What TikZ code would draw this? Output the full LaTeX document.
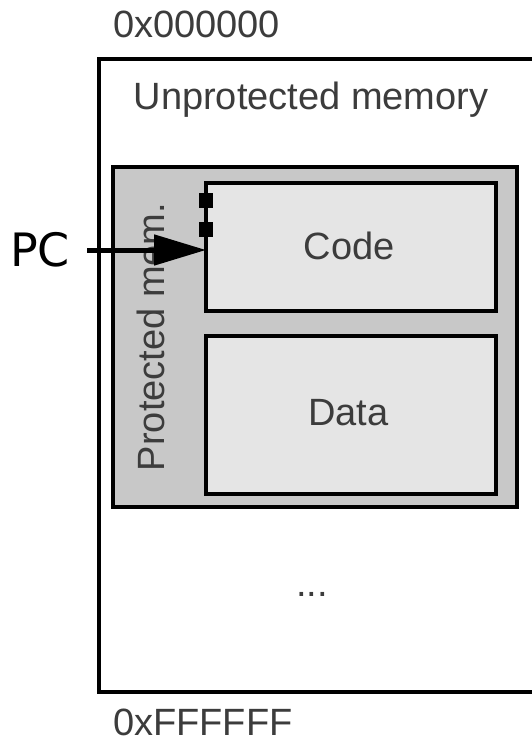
\documentclass[tikz,border=0pt]{standalone}
\usepackage{fontspec}
\setmainfont{Liberation Sans}
\newfontfamily\pcfont{DejaVu Sans}
\usetikzlibrary{arrows.meta}
\definecolor{labelgray}{HTML}{3C3C3C}
\definecolor{protfill}{HTML}{C8C8C8}
\definecolor{segfill}{HTML}{E5E5E5}
\begin{document}
\begin{tikzpicture}[x=1pt,y=-1pt,
  region/.style={draw=black, anchor=north west, inner sep=0pt},
  label/.style={text=labelgray, font=\fontsize{38}{40}\selectfont, inner sep=0pt},
  marker/.style={fill=black, minimum width=14pt, minimum height=15pt, inner sep=0pt}]
\useasboundingbox (0,0) rectangle (531,742);
\fill[white] (0,0) rectangle (531,742);

% whole address space (right edge runs off the page)
\node[region, line width=4pt, minimum width=460pt, minimum height=633pt] (mem) at (97,57) {};
% protected module
\node[region, line width=3.5pt, fill=protfill, minimum width=404pt, minimum height=340pt] (prot) at (111,165) {};
\node[region, line width=4pt, fill=segfill, minimum width=290pt, minimum height=128pt] (code) at (204,181) {};
\node[region, line width=4pt, fill=segfill, minimum width=290pt, minimum height=158pt] (data) at (204,334) {};

% entry points
\node[marker] (entryA) at (206,200) {};
\node[marker] (entryB) at (206,229) {};

% labels
\node[label, anchor=west] (lo) at (113,24) {0x000000};
\node[label, anchor=west] (hi) at (113,722) {0xFFFFFF};
\node[label] (unprot) at (311,100) {Unprotected memory};
\node[label, rotate=90] (protlbl) at (151,337) {Protected mem.};
\node[label] (codelbl) at (349,246) {Code};
\node[label] (datalbl) at (348.5,413) {Data};
\node[label] (dots) at (312,594) {...};

% program counter
\node[font=\pcfont\fontsize{46}{48}\selectfont, anchor=west, inner sep=0pt] (pc) at (10,250) {PC};
\coordinate (pctail) at (87,250);
\coordinate (pchead) at (206,250);
\draw[line width=5pt, -{Triangle[length=52pt,width=30pt]}] (pctail) -- (pchead);
\end{tikzpicture}
\end{document}
